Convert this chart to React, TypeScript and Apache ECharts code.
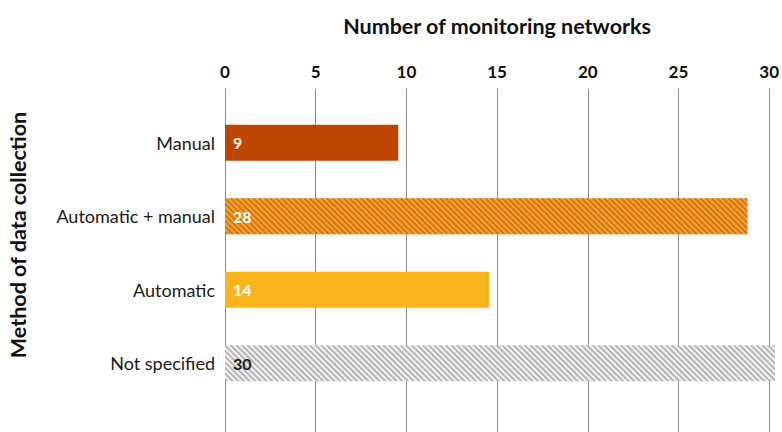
import React, { useEffect, useRef } from "react";
import * as echarts from "echarts";

const categories = ["Manual", "Automatic + manual", "Automatic", "Not specified"];
const barLengths = [9.45, 28.5, 14.4, 30];
const barLabels = ["9", "28", "14", "30"];
const tickMin = 0;
const tickMax = 30;
const tickStep = 5;

const FONT = "Lato";

export default function App() {
  const ref = useRef<HTMLDivElement>(null);
  useEffect(() => {
    document.body.style.margin = "0";
    const chart = echarts.init(ref.current!, null, { renderer: "svg" });
    const styles = [
      { color: "#BF4600", label: "#ffffff" },
      {
        color: "#F0A43A",
        label: "#ffffff",
        decal: {
          symbol: "rect",
          symbolSize: 1,
          dashArrayX: [1, 0],
          dashArrayY: [1.8, 1.4],
          rotation: Math.PI / 4,
          color: "#D8740A",
        },
      },
      { color: "#FCB41C", label: "#ffffff" },
      {
        color: "#F2F2F2",
        label: "#1a1a1a",
        decal: {
          symbol: "rect",
          symbolSize: 1,
          dashArrayX: [1, 0],
          dashArrayY: [1.6, 1.6],
          rotation: Math.PI / 4,
          color: "#B5B5B5",
        },
      },
    ];
    chart.setOption({
      animation: false,
      textStyle: { fontFamily: FONT },
      grid: [
        { left: 225, right: 7, top: 89, bottom: 0 },
        { left: 225, right: 7, top: 106, bottom: 32 },
      ],
      xAxis: [
        {
          gridIndex: 0,
          type: "value",
          position: "top",
          min: tickMin,
          max: tickMax,
          interval: tickStep,
          axisLine: { show: false },
          axisTick: { show: false },
          axisLabel: {
            margin: 9,
            fontSize: 17,
            fontWeight: "bold",
            color: "#111",
            fontFamily: FONT,
          },
          splitLine: { show: true, lineStyle: { color: "#8c8c8c", width: 1 } },
          name: "Number of monitoring networks",
          nameLocation: "middle",
          nameGap: 52,
          nameTextStyle: {
            fontSize: 21.5,
            fontWeight: "bold",
            color: "#111",
            fontFamily: FONT,
          },
        },
        {
          gridIndex: 1,
          type: "value",
          min: tickMin,
          max: tickMax,
          show: false,
        },
      ],
      yAxis: [
        { gridIndex: 0, type: "value", min: 0, max: 1, show: false },
        {
          gridIndex: 1,
          type: "category",
          inverse: true,
          data: categories,
          axisLine: { show: false },
          axisTick: { show: false },
          axisLabel: {
            margin: 10,
            fontSize: 18,
            color: "#1a1a1a",
            fontFamily: FONT,
          },
        },
      ],
      graphic: [
        {
          type: "text",
          x: 18,
          y: 235,
          rotation: Math.PI / 2,
          style: {
            text: "Method of data collection",
            fontSize: 21.5,
            fontWeight: "bold",
            fontFamily: FONT,
            fill: "#111",
            align: "center",
            verticalAlign: "middle",
          },
        },
      ],
      series: [
        {
          type: "bar",
          xAxisIndex: 1,
          yAxisIndex: 1,
          barWidth: 36,
          data: barLengths.map((v, i) => ({
            value: v,
            itemStyle: { color: styles[i].color, decal: styles[i].decal },
            label: { color: styles[i].label },
          })),
          label: {
            show: true,
            position: "insideLeft",
            distance: 8,
            fontSize: 16,
            fontWeight: "bold",
            fontFamily: FONT,
            formatter: (p: any) => barLabels[p.dataIndex],
          },
        },
      ],
    });
    return () => chart.dispose();
  }, []);
  return <div ref={ref} style={{ width: 782, height: 432 }} />;
}
